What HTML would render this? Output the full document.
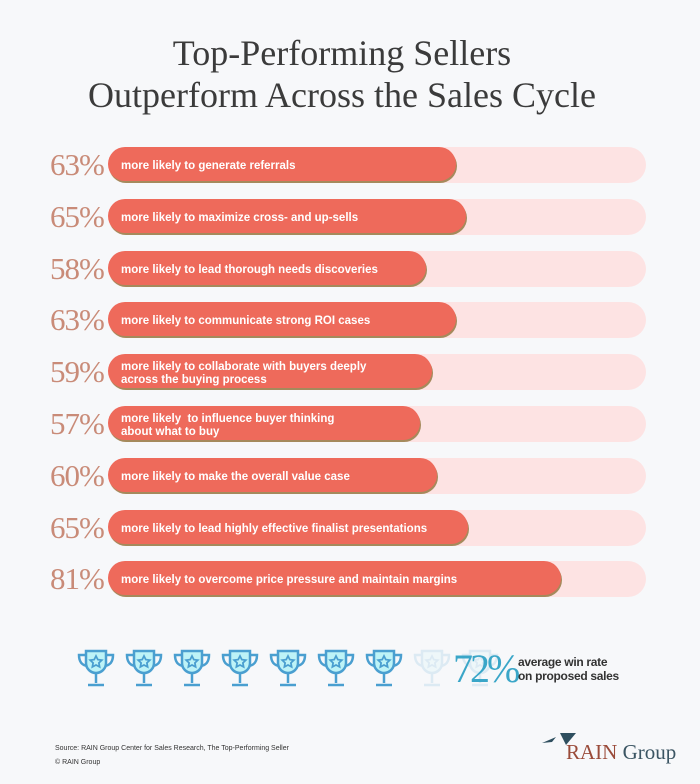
<!DOCTYPE html>
<html><head><style>
body{margin:0;width:700px;height:784px;background:#f7f8fa;position:relative;overflow:hidden;font-family:"Liberation Sans",sans-serif}
.t{position:absolute;left:-8px;width:700px;text-align:center;font-family:"Liberation Serif",serif;font-size:36px;color:#3b3b3b}
.track{position:absolute;left:108px;width:538px;height:36px;border-radius:18px;background:#fde3e3}
.bar{position:absolute;left:108px;height:34px;border-radius:17px;background:#ee6a5b;box-shadow:1px 2px 0 #a58a5c}
.lab{position:absolute;left:121px;color:#fff;font-size:11.5px;font-weight:bold;line-height:13px}
.p{position:absolute;left:50px;font-family:"Liberation Serif",serif;font-size:31px;color:#c98b78;letter-spacing:-1px}
.tr{position:absolute;top:648px}
</style></head><body>
<div class="t" style="top:32px">Top-Performing Sellers</div>
<div class="t" style="top:74px">Outperform Across the Sales Cycle</div>
<div id="rows"></div>
<script>
var d=[[63,456,"more likely to generate referrals"],[65,466,"more likely to maximize cross- and up-sells"],[58,426,"more likely to lead thorough needs discoveries"],[63,456,"more likely to communicate strong ROI cases"],[59,432,"more likely to collaborate with buyers deeply<br>across the buying process"],[57,420,"more likely &nbsp;to influence buyer thinking<br>about what to buy"],[60,437,"more likely to make the overall value case"],[65,468,"more likely to lead highly effective finalist presentations"],[81,561,"more likely to overcome price pressure and maintain margins"]];
var h="";
d.forEach(function(r,i){var c=165+i*51.8;
h+='<div class="track" style="top:'+(c-18)+'px"></div><div class="bar" style="top:'+(c-18)+'px;width:'+(r[1]-108)+'px"></div>';
var two=r[2].indexOf("<br>")>0;
h+='<div class="lab" style="top:'+(c-(two?11:5))+'px">'+r[2]+'</div>';
h+='<div class="p" style="top:'+(c-18)+'px">'+r[0]+'%</div>';});
for(var i=0;i<9;i++){var x=76+i*48,op=i<7?1:0.15;
h+='<svg class="tr" style="left:'+x+'px;opacity:'+op+'" width="40" height="42" viewBox="0 0 40 42"><g fill="none" stroke="#4a9fd0" stroke-width="2.5"><path d="M10 3h20v12a10 10 0 0 1-20 0z" fill="#bdf3f7"/><path d="M10 7H3c0 7 3 10 8 11M30 7h7c0 7-3 10-8 11M20 25v10M12 37h16"/><path d="M20 8l1.8 3.6 4 .5-2.9 2.8.7 4-3.6-1.9-3.6 1.9.7-4-2.9-2.8 4-.5z" stroke-width="1.8"/></g></svg>';}
document.getElementById("rows").innerHTML=h;
</script>
<div style="position:absolute;left:453px;top:645px;font-family:'Liberation Serif',serif;font-size:40px;color:#3aa6c8;letter-spacing:-3px">72%</div>
<div style="position:absolute;left:518px;top:655px;font-size:12px;font-weight:bold;color:#333;line-height:14px;letter-spacing:-0.3px">average win rate<br>on proposed sales</div>
<div style="position:absolute;left:55px;top:742px;font-size:7px;color:#333;line-height:14px">Source: RAIN Group Center for Sales Research, The Top-Performing Seller<br>© RAIN Group</div>
<svg style="position:absolute;left:542px;top:733px" width="40" height="14"><path d="M0 10L14 4 10 9z M18 0H34L24 12z" fill="#2f4f5f"/></svg>
<div style="position:absolute;left:566px;top:740px;font-family:'Liberation Serif',serif;font-size:21px;color:#9a4b3a">RAIN <span style="color:#3b5563">Group</span></div>
</body></html>
